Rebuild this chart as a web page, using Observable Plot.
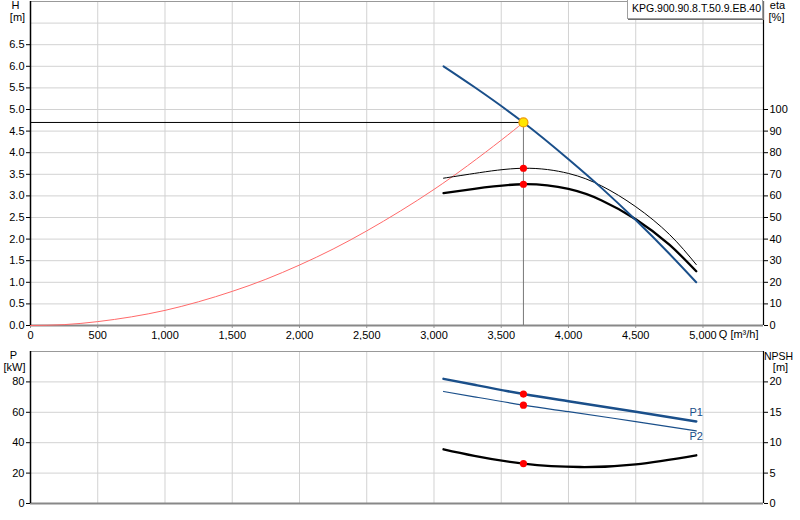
<!DOCTYPE html>
<html><head><meta charset="utf-8">
<script src="https://cdn.jsdelivr.net/npm/d3@7"></script>
<script src="https://cdn.jsdelivr.net/npm/@observablehq/plot@0.6"></script>
<style>
body{margin:0;background:#fff;font-family:"Liberation Sans",Arial,sans-serif;}
#wrap{position:relative;width:800px;height:520px;overflow:hidden;}
#wrap svg{display:block;}
#legend{position:absolute;left:627px;top:0;width:136px;height:19px;border:1px solid #a0a0a0;border-top:none;box-shadow:1px 1px 0 #707070;font-size:10.5px;line-height:16px;padding-left:4px;box-sizing:border-box;background:#fff;color:#000;white-space:nowrap;}
</style></head><body>
<div id="wrap"><div id="topPanel"></div><div id="botPanel"></div><div id="legend">KPG.900.90.8.T.50.9.EB.40</div></div>
<script>
// ---- axis ticks ----
const qTicks = [0,500,1000,1500,2000,2500,3000,3500,4000,4500,5000];
const hTicks = [0,0.5,1,1.5,2,2.5,3,3.5,4,4.5,5,5.5,6,6.5];
const hGrid = [0.5,1,1.5,2,2.5,3,3.5,4,4.5,5,5.5,6,6.5,7];
const etaTicks = [0,10,20,30,40,50,60,70,80,90,100];
const pTicks = [0,20,40,60,80];
const npshTicks = [0,5,10,15,20];
const qMax = 5450, hMax = 7.5, pMax = 100;

// ---- pump curve H(Q) ----
const qPump = [3071,3300,3665,4000,4247,4500,4750,4950];
const hPump = [6.0,5.52,4.70,3.85,3.18,2.44,1.66,1.0];
// ---- efficiency curves [%] ----
const qEta = [3071,3300,3665,4000,4247,4500,4750,4950];
const eta1 = [68.2,70.4,72.8,70.4,64.6,55.0,42.2,28.2];   // thin
const eta2 = [61.3,63.3,65.4,63.2,57.9,49.2,37.4,25.1];   // thick
// ---- system curve ----
const qSys = [0,250,500,750,1000,1250,1500,1750,2000,2250,2500,2750,3000,3250,3500,3665];
const hSys = [0,0.02,0.09,0.20,0.35,0.55,0.79,1.07,1.40,1.77,2.19,2.65,3.15,3.70,4.29,4.70];
// ---- power curves [kW] ----
const qP = [3071,3300,3665,4000,4500,4950];
const p1 = [82.0,78.1,72.0,67.3,60.4,54.0];
const p2 = [73.7,70.2,64.7,60.4,53.9,47.8];
// ---- NPSH [m] ----
const qN = [3071,3300,3665,4086,4500,4950];
const npsh = [8.92,7.85,6.56,6.0,6.45,7.93];
// ---- duty point ----
const opQ = 3665, opH = 4.70, opEta1 = 72.8, opEta2 = 65.4, opP1 = 72.0, opP2 = 64.7, opNpsh = 6.56;

const blue = "#1a4f8a", grid = "#d2d2d2";
const font = "Liberation Sans, Arial, sans-serif";
const zip = (xs, ys) => xs.map((x, i) => ({x, y: ys[i]}));
const fmtQ = d3.format(",");

const topChart = Plot.plot({
  width: 800, height: 340,
  marginLeft: 30, marginRight: 37, marginTop: 1, marginBottom: 15,
  style: {fontFamily: font, fontSize: "11px", background: "white", color: "black"},
  x: {domain: [0, qMax]},
  y: {domain: [0, hMax]},
  marks: [
    Plot.gridX(qTicks.slice(1), {stroke: grid, strokeOpacity: 1}),
    Plot.gridY(hGrid, {stroke: grid, strokeOpacity: 1}),
    Plot.ruleY([hMax], {stroke: "#999"}),
    Plot.axisX(qTicks, {anchor: "bottom", tickFormat: fmtQ, tickSize: 3, tickPadding: 3, stroke: "#999", label: null}),
    Plot.ruleY([0], {stroke: "#888", strokeWidth: 2}),
    Plot.axisY(hTicks, {anchor: "left", tickFormat: d3.format(".1f"), tickSize: 4, tickPadding: 2, label: null}),
    Plot.axisY(etaTicks.map(e => e / 20), {anchor: "right", tickFormat: d => Math.round(d * 20), tickSize: 4, tickPadding: 2, label: null}),
    Plot.ruleX([0], {stroke: "black", strokeWidth: 1.5}),
    Plot.ruleX([qMax], {stroke: "black", strokeWidth: 1.2}),
    // duty point guide lines
    Plot.ruleY([opH], {x1: 0, x2: opQ, stroke: "black", strokeWidth: 1}),
    Plot.ruleX([opQ], {y1: 0, y2: opH, stroke: "#777", strokeWidth: 1}),
    // curves
    Plot.line(zip(qSys, hSys), {x: "x", y: "y", stroke: "#ff6a6a", strokeWidth: 1, curve: "natural"}),
    Plot.line(zip(qEta, eta1.map(e => e / 20)), {x: "x", y: "y", stroke: "black", strokeWidth: 1, curve: "natural"}),
    Plot.line(zip(qEta, eta2.map(e => e / 20)), {x: "x", y: "y", stroke: "black", strokeWidth: 2.3, curve: "natural"}),
    Plot.line(zip(qPump, hPump), {x: "x", y: "y", stroke: blue, strokeWidth: 2, curve: "natural"}),
    Plot.dot([{x: opQ, y: opEta1 / 20}, {x: opQ, y: opEta2 / 20}], {x: "x", y: "y", r: 3.6, fill: "#ff0000", stroke: "none"}),
    Plot.dot([{x: opQ, y: opH}], {x: "x", y: "y", r: 4.5, fill: "#ffe600", stroke: "#f09a00", strokeWidth: 1.2}),
    // axis titles
    Plot.text(["H"], {text: d => d, frameAnchor: "top-left", dx: -15, dy: 4, textAnchor: "middle", lineAnchor: "middle"}),
    Plot.text(["[m]"], {text: d => d, frameAnchor: "top-left", dx: -13, dy: 16, textAnchor: "middle", lineAnchor: "middle"}),
    Plot.text(["eta"], {text: d => d, frameAnchor: "top-right", dx: 14, dy: 4, textAnchor: "middle", lineAnchor: "middle"}),
    Plot.text(["[%]"], {text: d => d, frameAnchor: "top-right", dx: 13, dy: 16, textAnchor: "middle", lineAnchor: "middle"}),
    Plot.text(["Q [m³/h]"], {text: d => d, frameAnchor: "bottom-right", dx: -5, dy: 9, textAnchor: "end", lineAnchor: "middle"})
  ]
});

const botChart = Plot.plot({
  width: 800, height: 180,
  marginLeft: 30, marginRight: 37, marginTop: 11, marginBottom: 17,
  style: {fontFamily: font, fontSize: "11px", background: "white", color: "black"},
  x: {domain: [0, qMax], axis: null},
  y: {domain: [0, pMax]},
  marks: [
    Plot.gridX(qTicks.slice(1), {stroke: grid, strokeOpacity: 1}),
    Plot.gridY(pTicks.slice(1), {stroke: grid, strokeOpacity: 1}),
    Plot.ruleY([pMax], {stroke: "#999"}),
    Plot.ruleY([0], {stroke: "#888", strokeWidth: 2}),
    Plot.axisY(pTicks, {anchor: "left", tickSize: 4, tickPadding: 2, label: null}),
    Plot.axisY(npshTicks.map(n => n * 4), {anchor: "right", tickFormat: d => Math.round(d / 4), tickSize: 4, tickPadding: 2, label: null}),
    Plot.ruleX([0], {stroke: "black", strokeWidth: 1.5}),
    Plot.ruleX([qMax], {stroke: "black", strokeWidth: 1.2}),
    Plot.line(zip(qP, p1), {x: "x", y: "y", stroke: blue, strokeWidth: 2.5, curve: "natural"}),
    Plot.line(zip(qP, p2), {x: "x", y: "y", stroke: blue, strokeWidth: 1.2, curve: "natural"}),
    Plot.line(zip(qN, npsh.map(n => n * 4)), {x: "x", y: "y", stroke: "black", strokeWidth: 2.3, curve: "natural"}),
    Plot.dot([{x: opQ, y: opP1}, {x: opQ, y: opP2}, {x: opQ, y: opNpsh * 4}], {x: "x", y: "y", r: 3.6, fill: "#ff0000", stroke: "none"}),
    Plot.text([{x: qP[qP.length - 1], y: p1[p1.length - 1], t: "P1"}], {x: "x", y: "y", text: "t", dy: -9, fill: blue, textAnchor: "middle", lineAnchor: "middle"}),
    Plot.text([{x: qP[qP.length - 1], y: p2[p2.length - 1], t: "P2"}], {x: "x", y: "y", text: "t", dy: 6, fill: blue, textAnchor: "middle", lineAnchor: "middle"}),
    Plot.text(["P"], {text: d => d, frameAnchor: "top-left", dx: -17, dy: 4, textAnchor: "middle", lineAnchor: "middle"}),
    Plot.text(["[kW]"], {text: d => d, frameAnchor: "top-left", dx: -16, dy: 16, textAnchor: "middle", lineAnchor: "middle"}),
    Plot.text(["NPSH"], {text: d => d, frameAnchor: "top-right", dx: 15, dy: 5, fontSize: 10.5, textAnchor: "middle", lineAnchor: "middle"}),
    Plot.text(["[m]"], {text: d => d, frameAnchor: "top-right", dx: 17, dy: 16, textAnchor: "middle", lineAnchor: "middle"})
  ]
});

document.getElementById("topPanel").appendChild(topChart);
document.getElementById("botPanel").appendChild(botChart);
</script>
</body></html>
